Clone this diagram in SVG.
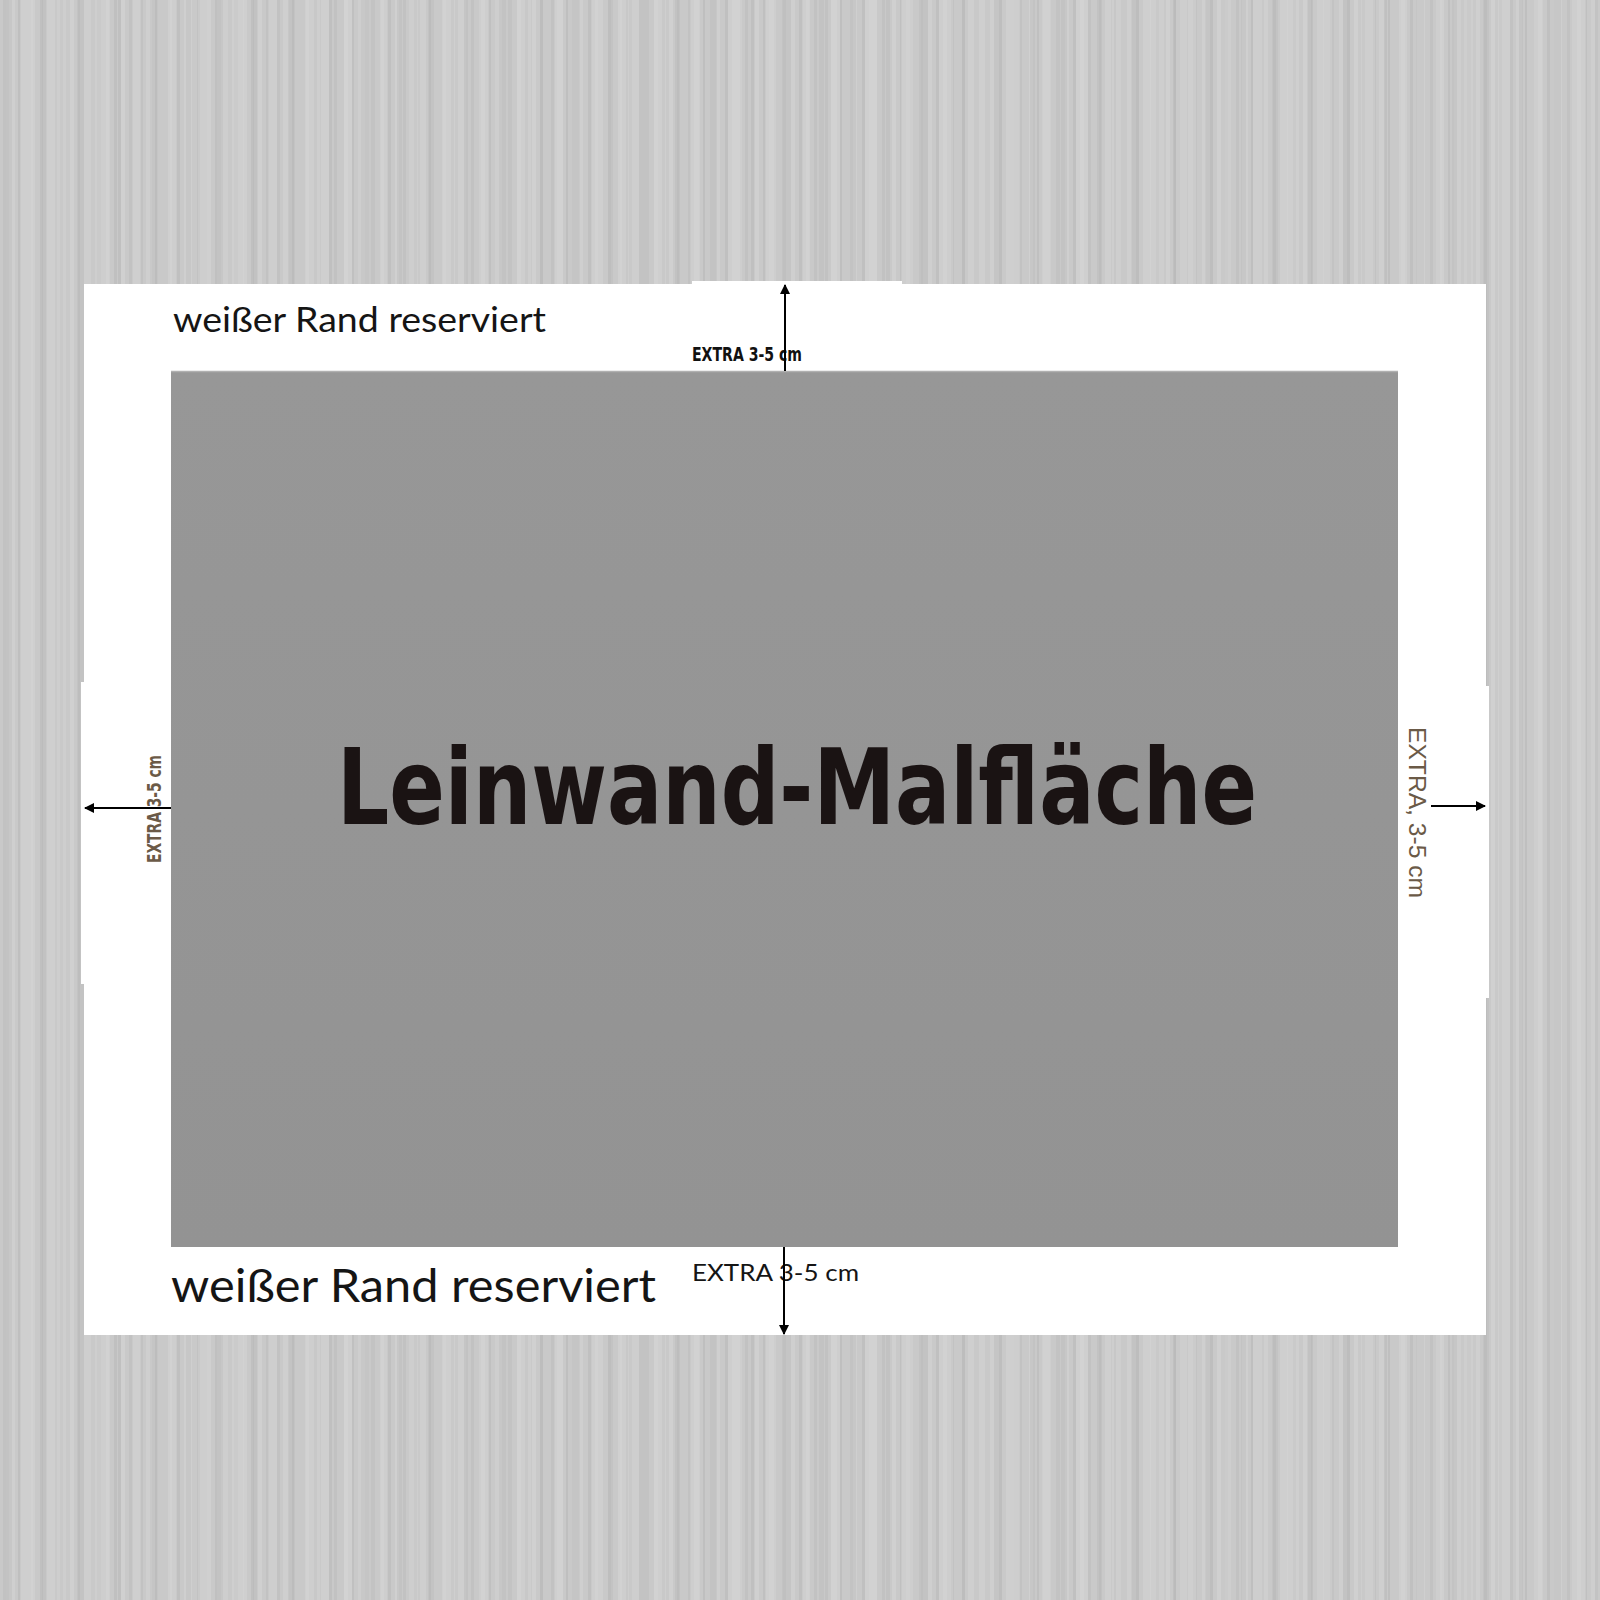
<svg xmlns="http://www.w3.org/2000/svg" width="1600" height="1600" viewBox="0 0 1600 1600">
<defs>
<style>
.bgA{fill:#b6b6b6}
.bgB{fill:#d6d6d6}
.lbl{font-family:"Lato","Noto Sans","DejaVu Sans",sans-serif;fill:#151515}
.cond{font-family:"DejaVu Sans Condensed","DejaVu Sans","Liberation Sans",sans-serif;font-stretch:condensed;font-weight:bold}
.side{font-family:"Liberation Sans",Arial,sans-serif;fill:#6b5a47}
.arr{stroke:#000;stroke-width:2;fill:none}
</style>
<marker id="ah" viewBox="0 0 10 10" refX="9" refY="5" markerWidth="14" markerHeight="10" markerUnits="userSpaceOnUse" orient="auto">
<path d="M0,0 L10,5 L0,10 z" fill="#000"/>
</marker>
<pattern id="stripesA" x="0" y="0" width="137" height="1600" patternUnits="userSpaceOnUse">
<rect class="bgA" x="3" y="0" width="3" height="1600" opacity="0.4"/>
<rect class="bgB" x="9" y="0" width="6" height="1600" opacity="0.5"/>
<rect class="bgA" x="18" y="0" width="2" height="1600" opacity="0.5"/>
<rect class="bgB" x="31" y="0" width="4" height="1600" opacity="0.5"/>
<rect class="bgA" x="40" y="0" width="3" height="1600" opacity="0.45"/>
<rect class="bgB" x="47" y="0" width="8" height="1600" opacity="0.4"/>
<rect class="bgA" x="60" y="0" width="3" height="1600" opacity="0.4"/>
<rect class="bgB" x="70" y="0" width="4" height="1600" opacity="0.6"/>
<rect class="bgA" x="78" y="0" width="2" height="1600" opacity="0.45"/>
<rect class="bgB" x="84" y="0" width="7" height="1600" opacity="0.45"/>
<rect class="bgA" x="97" y="0" width="4" height="1600" opacity="0.35"/>
<rect class="bgB" x="106" y="0" width="4" height="1600" opacity="0.5"/>
<rect class="bgA" x="114" y="0" width="3" height="1600" opacity="0.45"/>
<rect class="bgB" x="121" y="0" width="4" height="1600" opacity="0.6"/>
<rect class="bgA" x="129" y="0" width="3" height="1600" opacity="0.4"/>
</pattern>
<pattern id="stripesB" x="0" y="0" width="211" height="1600" patternUnits="userSpaceOnUse">
<rect class="bgA" x="6" y="0" width="6" height="1600" opacity="0.3"/>
<rect class="bgB" x="21" y="0" width="12" height="1600" opacity="0.4"/>
<rect class="bgA" x="42" y="0" width="4" height="1600" opacity="0.4"/>
<rect class="bgB" x="57" y="0" width="9" height="1600" opacity="0.35"/>
<rect class="bgA" x="77" y="0" width="7" height="1600" opacity="0.3"/>
<rect class="bgB" x="95" y="0" width="14" height="1600" opacity="0.35"/>
<rect class="bgA" x="118" y="0" width="3" height="1600" opacity="0.45"/>
<rect class="bgB" x="133" y="0" width="8" height="1600" opacity="0.4"/>
<rect class="bgA" x="150" y="0" width="8" height="1600" opacity="0.25"/>
<rect class="bgB" x="170" y="0" width="6" height="1600" opacity="0.45"/>
<rect class="bgA" x="186" y="0" width="5" height="1600" opacity="0.35"/>
<rect class="bgB" x="198" y="0" width="9" height="1600" opacity="0.35"/>
</pattern>
<linearGradient id="canvasG" x1="0" y1="0" x2="0" y2="1">
<stop offset="0" stop-color="#979797"/>
<stop offset="0.5" stop-color="#959595"/>
<stop offset="1" stop-color="#939393"/>
</linearGradient>
</defs>

<g id="background">
<rect x="0" y="0" width="1600" height="1600" fill="#c9c9c9"/>
<rect x="0" y="0" width="1600" height="1600" fill="url(#stripesA)"/>
<rect x="0" y="0" width="1600" height="1600" fill="url(#stripesB)"/>
</g>

<g id="white-sheet">
<rect x="84" y="284" width="1402" height="1051" fill="#ffffff"/>
<rect x="692" y="281" width="210" height="6" fill="#ffffff"/>
<rect x="81" y="682" width="6" height="302" fill="#ffffff"/>
<rect x="1483" y="686" width="6" height="312" fill="#ffffff"/>
</g>

<g id="canvas-area">
<rect x="171" y="371" width="1227" height="876" fill="url(#canvasG)"/>
<line x1="171" y1="371.5" x2="1398" y2="371.5" stroke="#b0b0b0" stroke-width="1.5"/>
<text x="337" y="824" class="cond" font-size="106" fill="#1a1313" textLength="920" lengthAdjust="spacingAndGlyphs">Leinwand-Malfläche</text>
</g>

<g id="label-top">
<text x="173" y="332" class="lbl" font-size="35" textLength="373" lengthAdjust="spacingAndGlyphs">weißer Rand reserviert</text>
</g>
<g id="label-bottom">
<text x="171" y="1302" class="lbl" font-size="47" textLength="485" lengthAdjust="spacingAndGlyphs">weißer Rand reserviert</text>
</g>

<g id="extra-top">
<text x="692" y="361" class="cond" font-size="19" fill="#111" textLength="110" lengthAdjust="spacingAndGlyphs">EXTRA 3-5 cm</text>
</g>
<g id="extra-bottom">
<text x="692" y="1281" class="lbl" font-size="24" textLength="167" lengthAdjust="spacingAndGlyphs">EXTRA 3-5 cm</text>
</g>
<g id="extra-left">
<text transform="translate(161,863) rotate(-90)" x="0" y="0" class="cond" font-size="19" fill="#6b5a47" textLength="108" lengthAdjust="spacingAndGlyphs">EXTRA 3-5 cm</text>
</g>
<g id="extra-right">
<text transform="translate(1409,727) rotate(90)" x="0" y="0" class="side" font-size="24.5" textLength="171" lengthAdjust="spacingAndGlyphs">EXTRA, 3-5 cm</text>
</g>

<g id="connectors">
<line class="arr" x1="785" y1="371" x2="785" y2="285" marker-end="url(#ah)"/>
<line class="arr" x1="784" y1="1247" x2="784" y2="1334" marker-end="url(#ah)"/>
<line class="arr" x1="171" y1="808" x2="85" y2="808" marker-end="url(#ah)"/>
<line class="arr" x1="1431" y1="806" x2="1485" y2="806" marker-end="url(#ah)"/>
</g>
</svg>
